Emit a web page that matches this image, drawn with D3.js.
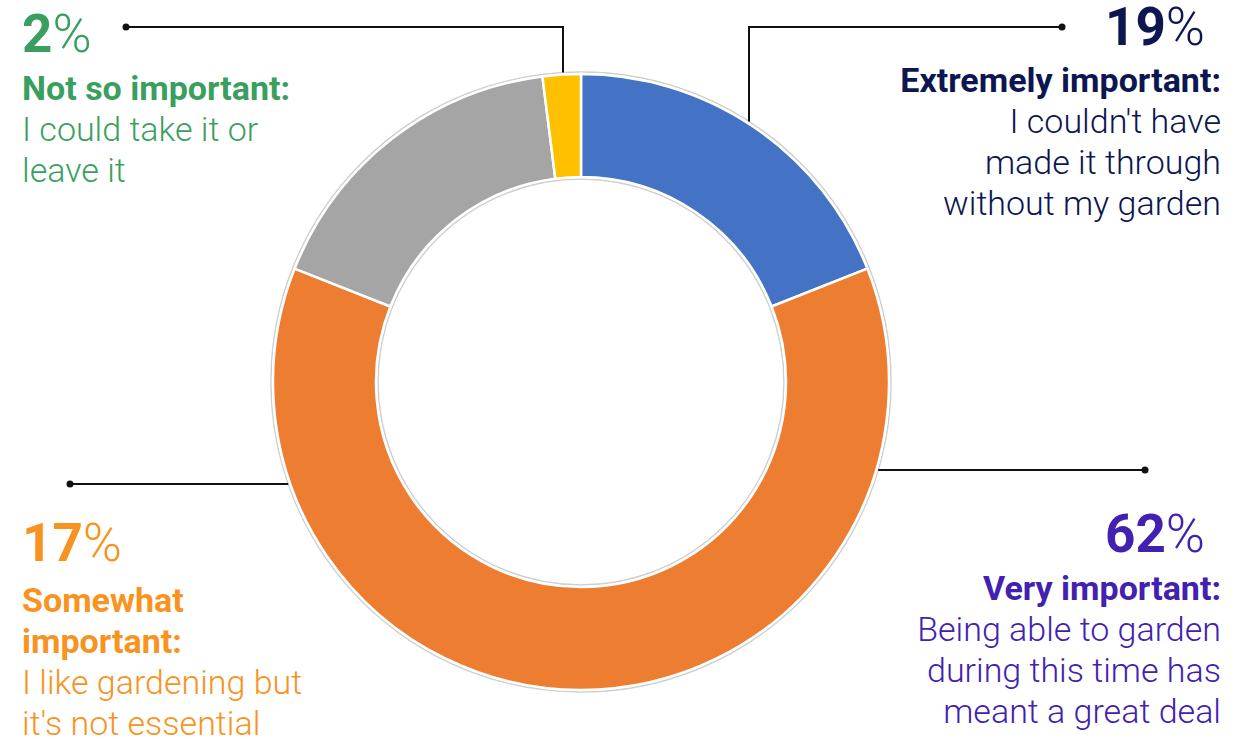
<!DOCTYPE html>
<html>
<head>
<meta charset="utf-8">
<script src="https://cdn.jsdelivr.net/npm/d3@7"></script>
<style>
  html, body { margin: 0; padding: 0; background: #fff; }
  svg { display: block; font-family: Roboto, "Noto Sans", sans-serif; }
</style>
</head>
<body>
<svg id="chart" width="1250" height="739"></svg>
<script>
// Importance of gardening — share of respondents
const categories = ["Extremely important", "Very important", "Somewhat important", "Not so important"];
const shares = [19, 62, 17, 2];
const sliceColors = ["#4472C4", "#ED7D31", "#A5A5A5", "#FFC000"];

const percentLabels = ["19", "62", "17", "2"];
const headings = [["Extremely important:"], ["Very important:"], ["Somewhat", "important:"], ["Not so important:"]];
const descriptions = [
  ["I couldn't have", "made it through", "without my garden"],
  ["Being able to garden", "during this time has", "meant a great deal"],
  ["I like gardening but", "it's not essential"],
  ["I could take it or", "leave it"]
];
const labelColors = ["#0c1650", "#4221b0", "#f7931e", "#3a9f5e"];

const svg = d3.select("#chart");
const cx = 581, cy = 382;
const outerR = 308, innerR = 205;

const pie = d3.pie().sort(null).value(d => d)(shares);
const arc = d3.arc().innerRadius(innerR).outerRadius(outerR);

const g = svg.append("g").attr("transform", `translate(${cx},${cy})`);

// thin grey rims around the ring
g.append("circle").attr("r", outerR + 2).attr("fill", "none").attr("stroke", "#cfcfcf").attr("stroke-width", 1.5);
g.append("circle").attr("r", innerR - 2).attr("fill", "none").attr("stroke", "#cfcfcf").attr("stroke-width", 1.5);

g.selectAll("path.slice")
  .data(pie)
  .enter().append("path")
  .attr("class", "slice")
  .attr("d", arc)
  .attr("fill", (d, i) => sliceColors[i])
  .attr("stroke", "#fff")
  .attr("stroke-width", 2.5);

// leader lines: each starts at a dot and runs to the rim of the ring
const rimR = outerR + 2;
const leaders = [
  { dot: [1062, 27], vx: 749 },   // elbow line dropping onto the blue slice
  { dot: [1145, 470], side: 1 },  // straight line to the right rim
  { dot: [70, 484], side: -1 },   // straight line to the left rim
  { dot: [126, 27], vx: 563 }     // elbow line dropping onto the yellow slice
];
leaders.forEach(L => {
  let pts;
  if (L.vx !== undefined) {
    const dx = L.vx - cx;
    const yEnd = cy - Math.sqrt(rimR * rimR - dx * dx);
    pts = [L.dot, [L.vx, L.dot[1]], [L.vx, yEnd]];
  } else {
    const dy = L.dot[1] - cy;
    const xEnd = cx + L.side * Math.sqrt(rimR * rimR - dy * dy);
    pts = [L.dot, [xEnd, L.dot[1]]];
  }
  svg.append("path")
    .attr("d", d3.line()(pts))
    .attr("fill", "none")
    .attr("stroke", "#111")
    .attr("stroke-width", 2);
  svg.append("circle").attr("cx", L.dot[0]).attr("cy", L.dot[1]).attr("r", 3.5).attr("fill", "#111");
});

// text blocks
const blocks = [
  { x: 1221, pctX: 1205, anchor: "end", pctY: 45, y0: 92 },
  { x: 1221, pctX: 1205, anchor: "end", pctY: 552, y0: 600 },
  { x: 22, pctX: 22, anchor: "start", pctY: 561, y0: 612 },
  { x: 22, pctX: 22, anchor: "start", pctY: 52, y0: 100 }
];
const lineH = 41;

blocks.forEach((b, i) => {
  const col = labelColors[i];
  const pct = svg.append("text")
    .attr("x", b.pctX).attr("y", b.pctY)
    .attr("text-anchor", b.anchor)
    .attr("fill", col)
    .style("font-size", "53px");
  pct.append("tspan").style("font-weight", 700).text(percentLabels[i]);
  pct.append("tspan").style("font-weight", 300).text("%");

  let y = b.y0;
  headings[i].forEach(line => {
    svg.append("text")
      .attr("x", b.x).attr("y", y)
      .attr("text-anchor", b.anchor)
      .attr("fill", col)
      .style("font-size", "34px").style("font-weight", 700)
      .text(line);
    y += lineH;
  });
  descriptions[i].forEach(line => {
    svg.append("text")
      .attr("x", b.x).attr("y", y)
      .attr("text-anchor", b.anchor)
      .attr("fill", col)
      .style("font-size", "34px").style("font-weight", 300)
      .text(line);
    y += lineH;
  });
});
</script>
</body>
</html>
